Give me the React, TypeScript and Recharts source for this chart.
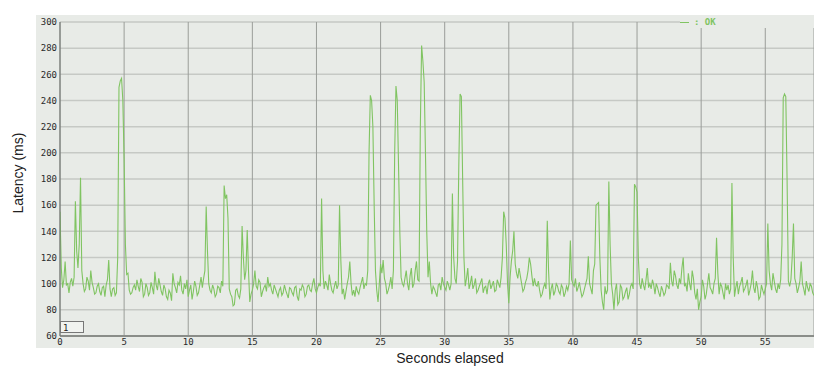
import React from "react";
import { LineChart, Line, XAxis, YAxis, CartesianGrid } from "recharts";

// sample interval in seconds (MID holds the samples in between)
const STEP = 0.2;

// latency (ms) at t = 0, 0.2, 0.4 ... one row per second
const LATENCY = [
  155, 97, 117, 100, 101,
  98, 163, 112, 181, 100,
  96, 102, 110, 97, 93,
  100, 91, 98, 99, 118,
  90, 97, 93, 250, 257,
  195, 107, 95, 93, 99,
  103, 94, 101, 92, 97,
  93, 97, 109, 95, 99,
  91, 96, 88, 93, 108,
  97, 101, 106, 92, 96,
  90, 99, 94, 98, 93,
  105, 104, 159, 100, 93,
  96, 92, 97, 102, 175,
  168, 96, 90, 84, 96,
  89, 144, 103, 141, 86,
  95, 110, 96, 101, 94,
  99, 105, 100, 92, 96,
  90, 97, 93, 95, 89,
  96, 91, 98, 87, 95,
  97, 92, 99, 94, 104,
  93, 100, 165, 96, 99,
  107, 95, 98, 96, 160,
  92, 88, 100, 117, 91,
  90, 94, 97, 105, 100,
  110, 244, 220, 110, 86,
  115, 118, 100, 95, 105,
  110, 251, 190, 105, 98,
  110, 95, 112, 100, 117,
  102, 282, 254, 140, 117,
  92, 96, 90, 100, 105,
  97, 102, 95, 169, 104,
  117, 245, 180, 98, 112,
  100, 96, 104, 95, 101,
  93, 98, 100, 96, 102,
  95, 100, 105, 155, 130,
  85, 117, 140, 108, 112,
  100, 96, 104, 120, 106,
  104, 98, 95, 92, 100,
  148, 88, 100, 94, 98,
  92, 97, 93, 95, 133,
  100, 104, 97, 95, 92,
  100, 121, 96, 110, 160,
  162, 95, 80, 92, 178,
  100, 80, 100, 86, 97,
  90, 97, 92, 100, 176,
  170, 100, 104, 95, 112,
  100, 103, 92, 97, 90,
  95, 93, 98, 116, 98,
  106, 96, 100, 120, 100,
  108, 95, 104, 88, 80,
  90, 98, 92, 108, 95,
  100, 135, 92, 98, 88,
  95, 92, 177, 90, 102,
  98, 105, 96, 103, 95,
  110, 93, 97, 90, 95,
  96, 146, 100, 108, 96,
  100, 103, 242, 243, 102,
  103, 146, 100, 97, 117,
  96, 102, 94, 98, 91,
];

// latency (ms) at t = 0.1, 0.3, 0.5 ...
const MID = [
  112, 103, 99, 93, 104,
  105, 125, 130, 110, 94,
  105, 95, 101, 92, 98,
  94, 97, 90, 103, 96,
  96, 91, 120, 255, 240,
  130, 108, 92, 97, 95,
  98, 104, 90, 100, 91,
  101, 92, 99, 104, 94,
  99, 90, 95, 87, 100,
  93, 99, 95, 100, 103,
  95, 88, 102, 91, 99,
  97, 110, 125, 95, 99,
  90, 98, 93, 98, 165,
  150, 92, 83, 95, 91,
  96, 120, 110, 110, 92,
  100, 98, 103, 90, 97,
  94, 98, 95, 99, 93,
  95, 91, 99, 92, 97,
  93, 97, 90, 96, 99,
  90, 98, 95, 100, 96,
  97, 98, 110, 102, 95,
  100, 93, 102, 99, 118,
  96, 94, 105, 100, 95,
  98, 92, 101, 96, 99,
  200, 240, 160, 95, 100,
  108, 104, 92, 99, 96,
  200, 240, 140, 100, 104,
  100, 106, 97, 110, 103,
  220, 270, 200, 105, 100,
  98, 93, 99, 95, 100,
  95, 99, 100, 120, 100,
  190, 243, 120, 104, 96,
  106, 99, 93, 98, 104,
  97, 92, 103, 99, 94,
  103, 97, 120, 150, 100,
  105, 125, 115, 104, 106,
  94, 101, 110, 115, 98,
  99, 102, 90, 97, 96,
  110, 96, 91, 100, 94,
  99, 90, 98, 100, 103,
  98, 94, 101, 90, 96,
  104, 100, 92, 115, 161,
  120, 86, 98, 95, 130,
  92, 95, 84, 99, 88,
  94, 88, 98, 96, 174,
  120, 96, 99, 103, 97,
  96, 99, 100, 93, 98,
  91, 99, 96, 102, 110,
  99, 104, 112, 98, 94,
  100, 110, 93, 96, 86,
  103, 88, 100, 97, 92,
  104, 108, 100, 93, 100,
  99, 96, 120, 97, 92,
  101, 94, 99, 91, 100,
  97, 102, 88, 99, 92,
  100, 110, 95, 102, 93,
  96, 130, 245, 180, 98,
  120, 104, 93, 102, 100,
  91, 97, 100, 93,
];

const X_TICKS = [0, 5, 10, 15, 20, 25, 30, 35, 40, 45, 50, 55];
const Y_TICKS = [60, 80, 100, 120, 140, 160, 180, 200, 220, 240, 260, 280, 300];
const SERIES_NAME = "OK";

const PANEL = "#e8ebe7";
const GREEN = "#80c462";
const MONO = "'DejaVu Sans Mono', monospace";
const SANS = "'Liberation Sans', Arial, sans-serif";

const data: { t: number; ok: number }[] = [];
LATENCY.forEach((v, i) => {
  const t = Math.round(i * STEP * 10) / 10;
  data.push({ t, ok: v });
  if (i < MID.length) data.push({ t: Math.round((t + STEP / 2) * 10) / 10, ok: MID[i] });
});

const tickStyle = { fontFamily: MONO, fontSize: 9, fill: "#2a2a2a" };

export default function App() {
  return (
    <div
      style={{
        position: "absolute",
        left: 0,
        top: 0,
        width: 814,
        height: 366,
        overflow: "hidden",
        background: "#fff",
      }}
    >
      <div
        style={{
          position: "absolute",
          left: 36,
          top: 15,
          width: 778,
          height: 333,
          background: PANEL,
        }}
      />
      <div style={{ position: "absolute", left: 0, top: 0 }}>
        <LineChart
          width={814}
          height={366}
          data={data}
          margin={{ top: 22, right: 0, bottom: 16, left: 0 }}
        >
          <CartesianGrid vertical={false} stroke="#c6c9c5" strokeWidth={1.5} />
          <CartesianGrid horizontal={false} stroke="#9a9d99" strokeWidth={1} />
          <XAxis
            dataKey="t"
            type="number"
            domain={[0, 58.8]}
            ticks={X_TICKS}
            height={14}
            tickSize={0}
            tickMargin={3}
            tick={tickStyle}
            axisLine={{ stroke: "#8a8d89", strokeWidth: 2 }}
            allowDataOverflow
          />
          <YAxis
            type="number"
            domain={[60, 300]}
            ticks={Y_TICKS}
            width={60}
            tickSize={0}
            tickMargin={3}
            tick={tickStyle}
            axisLine={{ stroke: "#6f726e", strokeWidth: 1 }}
            allowDataOverflow
          />
          <Line
            type="linear"
            dataKey="ok"
            name={SERIES_NAME}
            stroke={GREEN}
            strokeWidth={1.1}
            dot={false}
            isAnimationActive={false}
          />
        </LineChart>
      </div>
      <div
        style={{
          position: "absolute",
          left: 680,
          top: 15,
          width: 134,
          height: 13,
          background: PANEL,
          fontFamily: MONO,
          fontSize: 9,
          fontWeight: "bold",
          lineHeight: "15px",
          color: GREEN,
          whiteSpace: "pre",
        }}
      >
        <span
          style={{
            display: "inline-block",
            width: 9,
            height: 1.5,
            background: GREEN,
            verticalAlign: "middle",
            marginRight: 5,
          }}
        />
        {": " + SERIES_NAME}
      </div>
      <div
        style={{
          position: "absolute",
          left: 60,
          top: 321,
          width: 24,
          height: 12,
          border: "1px solid #777",
          background: "#f1f3f0",
          fontFamily: MONO,
          fontSize: 9,
          lineHeight: "12px",
          paddingLeft: 2,
          boxSizing: "border-box",
          color: "#222",
        }}
      >
        1
      </div>
      <div
        style={{
          position: "absolute",
          left: -32,
          top: 165,
          width: 100,
          textAlign: "center",
          transform: "rotate(-90deg)",
          fontFamily: SANS,
          fontSize: 14,
          lineHeight: "16px",
          color: "#222",
        }}
      >
        Latency (ms)
      </div>
      <div
        style={{
          position: "absolute",
          left: 350,
          top: 350,
          width: 200,
          textAlign: "center",
          fontFamily: SANS,
          fontSize: 14,
          lineHeight: "16px",
          color: "#222",
        }}
      >
        Seconds elapsed
      </div>
    </div>
  );
}
